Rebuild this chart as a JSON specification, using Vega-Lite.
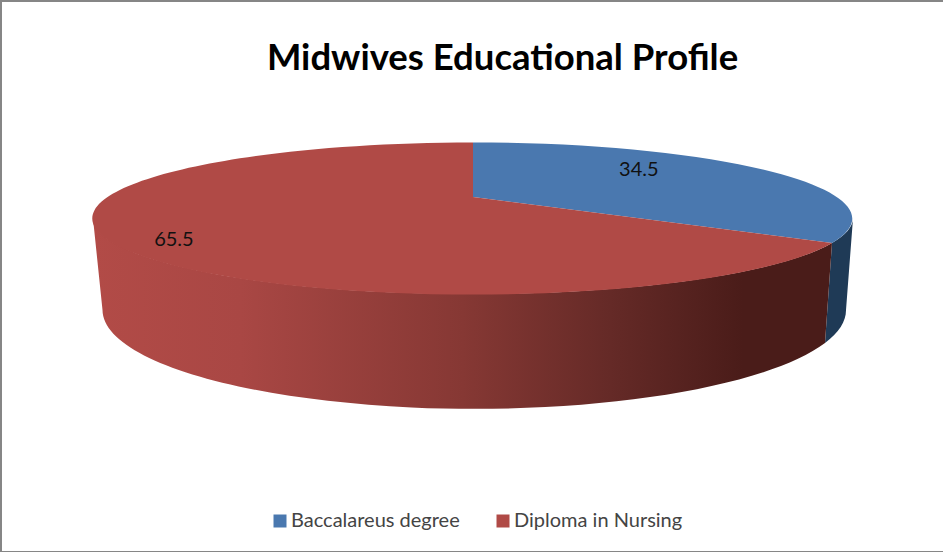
{
  "$schema": "https://vega.github.io/schema/vega-lite/v6.json",
  "width": 945,
  "height": 551,
  "padding": {"left": 1, "top": 1, "right": 0, "bottom": 0},
  "autosize": "none",
  "background": "white",
  "view": {"stroke": "#868686", "strokeWidth": 2, "fill": "white"},
  "title": {
    "text": "Midwives Educational Profile",
    "font": "Lato",
    "fontSize": 36.5,
    "fontWeight": "bold",
    "color": "#000000",
    "anchor": "middle",
    "baseline": "alphabetic",
    "dx": 29,
    "offset": -105
  },
  "data": {
    "values": [
      {"category": "Baccalareus degree", "value": 34.5},
      {"category": "Diploma in Nursing", "value": 65.5}
    ]
  },
  "encoding": {
    "x": {"datum": 0, "type": "quantitative", "scale": {"domain": [-1, 1]}, "axis": null},
    "y": {"datum": 0, "type": "quantitative", "scale": {"domain": [-1, 1]}, "axis": null}
  },
  "layer": [
    {
      "transform": [{"filter": "datum.category === 'Baccalareus degree'"}],
      "mark": {
        "type": "point", "filled": true, "opacity": 1, "size": 1000000, "fill": "#1f3a56",
        "shape": "M0.717 -0.067 L0.703 0.133 A0.744 0.198 0 0 0 0.745 0.067 L0.759 -0.116 A0.76 0.152 0 0 1 0.717 -0.067 Z"
      }
    },
    {
      "transform": [{"filter": "datum.category === 'Diploma in Nursing'"}],
      "mark": {
        "type": "point", "filled": true, "opacity": 1, "size": 1000000,
        "fill": {
          "gradient": "linear", "x1": 0, "y1": 0, "x2": 1, "y2": 0,
          "stops": [
            {"offset": 0, "color": "#b24b47"},
            {"offset": 0.2, "color": "#a94744"},
            {"offset": 0.5, "color": "#863834"},
            {"offset": 0.7, "color": "#652a27"},
            {"offset": 0.88, "color": "#4a1c19"},
            {"offset": 1, "color": "#4a1c19"}
          ]
        },
        "shape": "M-0.761 -0.116 L-0.742 0.067 A0.744 0.198 0 0 0 0.703 0.133 L0.717 -0.067 A0.76 0.152 0 0 1 -0.761 -0.116 Z"
      }
    },
    {
      "transform": [{"filter": "datum.category === 'Baccalareus degree'"}],
      "mark": {
        "type": "point", "filled": true, "opacity": 1, "size": 1000000,
        "shape": "M-0.001 -0.159 L-0.001 -0.268 A0.76 0.152 0 0 1 0.717 -0.067 Z"
      },
      "encoding": {
        "fill": {
          "field": "category", "type": "nominal",
          "scale": {"domain": ["Baccalareus degree", "Diploma in Nursing"], "range": ["#4a78af", "#b04a46"]},
          "legend": {
            "title": null,
            "orient": "none",
            "direction": "horizontal",
            "legendX": 269,
            "legendY": 510,
            "symbolType": "square",
            "symbolSize": 169,
            "symbolStrokeWidth": 0,
            "labelFont": "Lato",
            "labelFontSize": 20,
            "labelColor": "#444444",
            "labelLimit": 300,
            "labelOffset": 1,
            "columnPadding": 33,
            "padding": 0,
            "encode": {
              "symbols": {
                "fill": {
                  "condition": {"test": "datum.value === 'Baccalareus degree'", "value": "#4f81bd"},
                  "value": "#c0504d"
                }
              }
            }
          }
        }
      }
    },
    {
      "transform": [{"filter": "datum.category === 'Diploma in Nursing'"}],
      "mark": {
        "type": "point", "filled": true, "opacity": 1, "size": 1000000,
        "shape": "M-0.001 -0.159 L0.717 -0.067 A0.76 0.152 0 1 1 -0.001 -0.268 Z"
      },
      "encoding": {
        "fill": {"field": "category", "type": "nominal"}
      }
    },
    {
      "transform": [{"filter": "datum.category === 'Baccalareus degree'"}],
      "mark": {"type": "text", "font": "Lato", "fontSize": 20, "color": "#111111"},
      "encoding": {
        "x": {"datum": 0.35, "type": "quantitative"},
        "y": {"datum": 0.387, "type": "quantitative"},
        "text": {"field": "value", "type": "quantitative", "format": ".1f"}
      }
    },
    {
      "transform": [{"filter": "datum.category === 'Diploma in Nursing'"}],
      "mark": {"type": "text", "font": "Lato", "fontSize": 20, "color": "#111111"},
      "encoding": {
        "x": {"datum": -0.634, "type": "quantitative"},
        "y": {"datum": 0.132, "type": "quantitative"},
        "text": {"field": "value", "type": "quantitative", "format": ".1f"}
      }
    }
  ]
}
